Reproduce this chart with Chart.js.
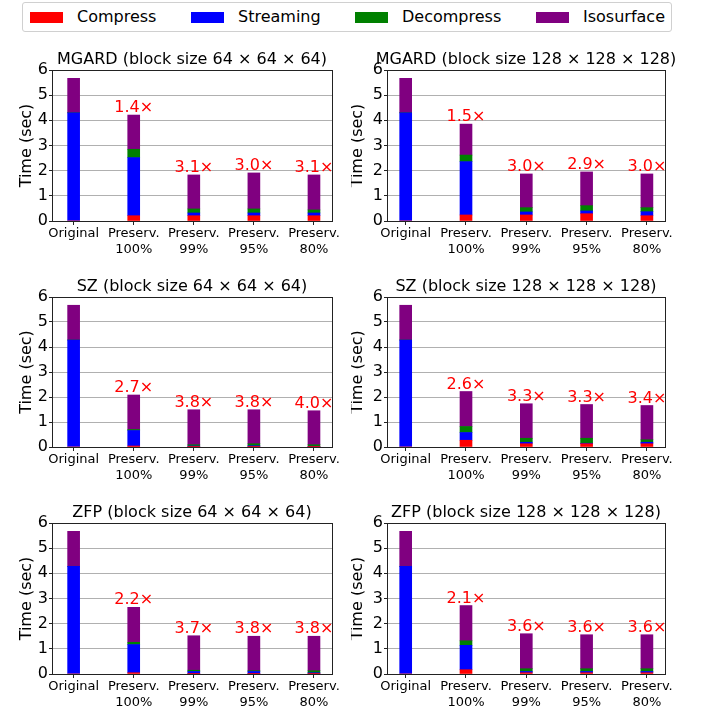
<!DOCTYPE html>
<html>
<head>
<meta charset="utf-8">
<script src="https://cdn.jsdelivr.net/npm/chart.js@4.4.1/dist/chart.umd.min.js"></script>
<style>
    body { margin: 0; background: #fff; }
    #figure { position: relative; width: 702px; height: 709px; font-family: 'DejaVu Sans', sans-serif; }
    #figure canvas { position: absolute; }
    .legend { position: absolute; left: 22px; top: 2px; width: 648px; height: 28px; border: 1px solid #d0d0d0; border-radius: 3px; }
    .legend .swatch { position: absolute; top: 9px; width: 33px; height: 11px; }
    .legend .label { position: absolute; top: 5px; font-size: 16px; line-height: 18px; color: #000; }
</style>
</head>
<body>
<div id="figure">
    <div class="legend" id="legend"></div>
    <canvas id="c0" width="351" height="225" style="left:0;top:40px"></canvas>
    <canvas id="c1" width="351" height="225" style="left:351px;top:40px"></canvas>
    <canvas id="c2" width="351" height="225" style="left:0;top:265px"></canvas>
    <canvas id="c3" width="351" height="225" style="left:351px;top:265px"></canvas>
    <canvas id="c4" width="351" height="219" style="left:0;top:490px"></canvas>
    <canvas id="c5" width="351" height="219" style="left:351px;top:490px"></canvas>
</div>
<script>
// categories and series
const categories = ['Original', ['Preserv.', '100%'], ['Preserv.', '99%'], ['Preserv.', '95%'], ['Preserv.', '80%']];
const seriesNames = ['Compress', 'Streaming', 'Decompress', 'Isosurface'];
const seriesColors = ['#ff0000', '#0000ff', '#008000', '#800080'];
const yTicks = [0, 1, 2, 3, 4, 5, 6];

// MGARD, block 64
const mgard64Compress   = [0, 0.21, 0.21, 0.21, 0.21];
const mgard64Streaming  = [4.30, 2.31, 0.11, 0.11, 0.11];
const mgard64Decompress = [0, 0.33, 0.16, 0.16, 0.12];
const mgard64Iso        = [1.37, 1.36, 1.35, 1.43, 1.39];
const mgard64Speedup    = ['', '1.4×', '3.1×', '3.0×', '3.1×'];

// MGARD, block 128
const mgard128Compress   = [0, 0.24, 0.24, 0.29, 0.21];
const mgard128Streaming  = [4.30, 2.12, 0.12, 0.11, 0.16];
const mgard128Decompress = [0, 0.26, 0.17, 0.21, 0.16];
const mgard128Iso        = [1.37, 1.23, 1.34, 1.34, 1.34];
const mgard128Speedup    = ['', '1.5×', '3.0×', '2.9×', '3.0×'];

// SZ, block 64
const sz64Compress   = [0, 0.04, 0.01, 0.01, 0.01];
const sz64Streaming  = [4.28, 0.62, 0.03, 0.04, 0.02];
const sz64Decompress = [0, 0.04, 0.05, 0.08, 0.06];
const sz64Iso        = [1.39, 1.38, 1.40, 1.36, 1.36];
const sz64Speedup    = ['', '2.7×', '3.8×', '3.8×', '4.0×'];

// SZ, block 128
const sz128Compress   = [0, 0.27, 0.13, 0.13, 0.13];
const sz128Streaming  = [4.28, 0.31, 0.06, 0.02, 0.06];
const sz128Decompress = [0, 0.24, 0.16, 0.20, 0.10];
const sz128Iso        = [1.39, 1.40, 1.38, 1.35, 1.37];
const sz128Speedup    = ['', '2.6×', '3.3×', '3.3×', '3.4×'];

// ZFP, block 64
const zfp64Compress   = [0, 0.05, 0.01, 0.01, 0.01];
const zfp64Streaming  = [4.28, 1.12, 0.09, 0.09, 0.04];
const zfp64Decompress = [0, 0.09, 0.05, 0.03, 0.08];
const zfp64Iso        = [1.39, 1.39, 1.37, 1.37, 1.37];
const zfp64Speedup    = ['', '2.2×', '3.7×', '3.8×', '3.8×'];

// ZFP, block 128
const zfp128Compress   = [0, 0.17, 0.05, 0.05, 0.05];
const zfp128Streaming  = [4.28, 0.97, 0.05, 0.05, 0.05];
const zfp128Decompress = [0, 0.18, 0.11, 0.11, 0.11];
const zfp128Iso        = [1.39, 1.40, 1.39, 1.35, 1.35];
const zfp128Speedup    = ['', '2.1×', '3.6×', '3.6×', '3.6×'];

const panels = [
    { title: 'MGARD (block size 64 × 64 × 64)', series: [mgard64Compress, mgard64Streaming, mgard64Decompress, mgard64Iso], speedup: mgard64Speedup },
    { title: 'MGARD (block size 128 × 128 × 128)', series: [mgard128Compress, mgard128Streaming, mgard128Decompress, mgard128Iso], speedup: mgard128Speedup },
    { title: 'SZ (block size 64 × 64 × 64)', series: [sz64Compress, sz64Streaming, sz64Decompress, sz64Iso], speedup: sz64Speedup },
    { title: 'SZ (block size 128 × 128 × 128)', series: [sz128Compress, sz128Streaming, sz128Decompress, sz128Iso], speedup: sz128Speedup },
    { title: 'ZFP (block size 64 × 64 × 64)', series: [zfp64Compress, zfp64Streaming, zfp64Decompress, zfp64Iso], speedup: zfp64Speedup },
    { title: 'ZFP (block size 128 × 128 × 128)', series: [zfp128Compress, zfp128Streaming, zfp128Decompress, zfp128Iso], speedup: zfp128Speedup }
];

// frame of each canvas: top padding, x-axis height, y-axis width, right padding
const rowFrames = [
    { top: 30, xHeight: 44 },
    { top: 32, xHeight: 43 },
    { top: 33, xHeight: 35 }
];
const colFrames = [
    { yWidth: 52, right: 19, xMin: -0.36, labelOffset: 25 },
    { yWidth: 36, right: 37, xMin: -0.31, labelOffset: 29 }
];

const FONT = "'DejaVu Sans', sans-serif";

// legend
const legend = document.getElementById('legend');
const swatchLeft = [7, 168, 332, 513];
seriesNames.forEach((name, i) => {
    const sw = document.createElement('div');
    sw.className = 'swatch';
    sw.style.left = swatchLeft[i] + 'px';
    sw.style.background = seriesColors[i];
    legend.appendChild(sw);
    const lb = document.createElement('div');
    lb.className = 'label';
    lb.style.left = (swatchLeft[i] + 47) + 'px';
    lb.textContent = name;
    legend.appendChild(lb);
});

// titles, y label, speedup labels and the box round the axes
const panelDecor = {
    id: 'panelDecor',
    afterDraw(chart, args, opts) {
        const ctx = chart.ctx;
        const area = chart.chartArea;
        const xs = chart.scales.x;
        const ys = chart.scales.y;
        ctx.save();

        ctx.strokeStyle = '#222';
        ctx.lineWidth = 1;
        ctx.strokeRect(Math.round(area.left) + 0.5, Math.round(area.top) + 0.5,
            Math.round(area.right - area.left), Math.round(area.bottom - area.top));

        ctx.fillStyle = '#000';
        ctx.font = '16px ' + FONT;
        ctx.textAlign = 'center';
        ctx.textBaseline = 'alphabetic';
        ctx.fillText(opts.title, (area.left + area.right) / 2, area.top - 6);

        ctx.save();
        ctx.translate(area.left - opts.labelOffset, (area.top + area.bottom) / 2);
        ctx.rotate(-Math.PI / 2);
        ctx.textBaseline = 'middle';
        ctx.fillText('Time (sec)', 0, 0);
        ctx.restore();

        ctx.fillStyle = '#ff0000';
        opts.speedup.forEach((txt, i) => {
            if (!txt) return;
            let total = 0;
            chart.data.datasets.forEach(ds => { total += ds.data[i].y; });
            ctx.fillText(txt, xs.getPixelForValue(i), ys.getPixelForValue(total) - 3);
        });
        ctx.restore();
    }
};

panels.forEach((panel, p) => {
    const row = rowFrames[Math.floor(p / 2)];
    const col = colFrames[p % 2];
    const ctx = document.getElementById('c' + p).getContext('2d');

    new Chart(ctx, {
        type: 'bar',
        data: {
            datasets: panel.series.map((values, s) => ({
                label: seriesNames[s],
                data: values.map((v, i) => ({ x: i, y: v })),
                backgroundColor: seriesColors[s],
                borderWidth: 0,
                barThickness: 12
            }))
        },
        options: {
            responsive: false,
            animation: false,
            devicePixelRatio: 1,
            layout: { padding: { top: row.top, right: col.right, left: 0, bottom: 0 } },
            plugins: {
                legend: { display: false },
                tooltip: { enabled: false },
                panelDecor: { title: panel.title, speedup: panel.speedup, labelOffset: col.labelOffset }
            },
            scales: {
                x: {
                    type: 'linear',
                    stacked: true,
                    offset: false,
                    min: col.xMin,
                    max: 4.3,
                    afterBuildTicks: (scale) => { scale.ticks = categories.map((c, i) => ({ value: i })); },
                    afterFit: (scale) => { scale.height = row.xHeight; },
                    grid: { display: true, offset: false, drawOnChartArea: false, drawTicks: true, tickLength: 4, tickColor: '#222', color: '#222' },
                    border: { display: false },
                    ticks: {
                        autoSkip: false,
                        maxRotation: 0,
                        padding: 1,
                        color: '#000',
                        font: { family: FONT, size: 13 },
                        callback: (value) => categories[value]
                    }
                },
                y: {
                    stacked: true,
                    min: 0,
                    max: 6,
                    afterBuildTicks: (scale) => { scale.ticks = yTicks.map(v => ({ value: v })); },
                    afterFit: (scale) => { scale.width = col.yWidth; },
                    grid: { color: '#b0b0b0', lineWidth: 1, tickLength: 3, tickColor: '#222' },
                    border: { display: false },
                    ticks: {
                        padding: 1,
                        color: '#000',
                        font: { family: FONT, size: 16 }
                    }
                }
            }
        },
        plugins: [panelDecor]
    });
});
</script>
</body>
</html>
